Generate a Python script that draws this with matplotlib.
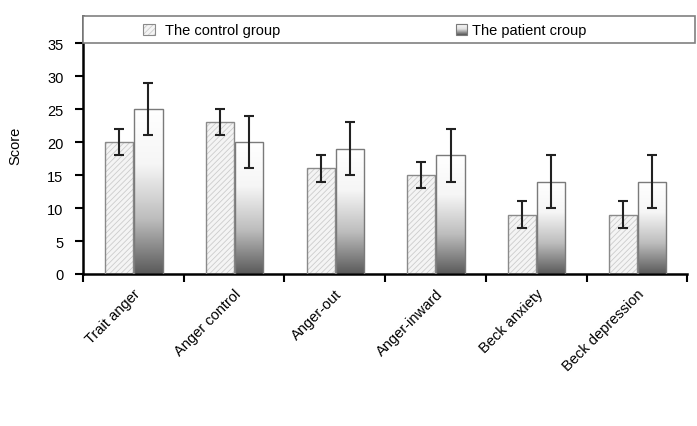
import numpy as np
import matplotlib.pyplot as plt
from matplotlib.patches import Rectangle
from matplotlib.colors import LinearSegmentedColormap
import matplotlib.transforms as mtransforms

plt.rcParams['font.family'] = ['Liberation Sans', 'DejaVu Sans']
plt.rcParams['hatch.linewidth'] = 0.6

categories = ["Trait anger", "Anger control", "Anger-out", "Anger-inward",
              "Beck anxiety", "Beck depression"]
control = [20, 23, 16, 15, 9, 9]
control_err = [2, 2, 2, 2, 2, 2]
patient = [25, 20, 19, 18, 14, 14]
patient_err = [4, 4, 4, 4, 4, 4]

fig = plt.figure(figsize=(6.97, 4.27), dpi=100)
ax = fig.add_axes([0.119, 0.356, 0.867, 0.604])

x = np.arange(len(categories))
w = 0.28
xc = x + 0.36
xp = x + 0.65

# control: light hatched fill, then grey outline
ax.bar(xc, control, w, color='#f4f4f4', edgecolor='#cccccc', hatch='//////',
       linewidth=0, zorder=2)
ax.bar(xc, control, w, color='none', edgecolor='#8a8a8a', linewidth=1, zorder=3)

bars = ax.bar(xp, patient, w, color='none', edgecolor='#7a7a7a', linewidth=1, zorder=3)

# vertical gradient, white on top, dark grey at bottom
cmap = LinearSegmentedColormap.from_list(
    'g', ['#ffffff', '#f6f6f6', '#bdbdbd', '#5a5a5a'])
for b in bars:
    x0, y0 = b.get_x(), b.get_y()
    im = ax.imshow(np.linspace(0, 1, 256).reshape(-1, 1), cmap=cmap, aspect='auto',
                   extent=[x0, x0 + b.get_width(), y0, y0 + b.get_height()],
                   origin='upper', zorder=2)
    im.set_clip_path(b)

ax.errorbar(xc, control, yerr=control_err, fmt='none', ecolor='#222222',
            elinewidth=1.5, capsize=3.5, capthick=1.5, zorder=4)
ax.errorbar(xp, patient, yerr=patient_err, fmt='none', ecolor='#222222',
            elinewidth=1.5, capsize=3.5, capthick=1.5, zorder=4)

fs = 10.5
ax.set_xlim(0, 6)
ax.set_ylim(0, 39.1)
ax.set_yticks(range(0, 36, 5))
ax.set_xticks(range(0, 7))
ax.set_xticklabels([])
ax.set_xticks(x + 0.5, minor=True)
ax.set_xticklabels(categories, minor=True, rotation=45, ha='right',
                   rotation_mode='anchor', fontsize=fs)
ax.tick_params(axis='x', which='minor', length=0, pad=9)
ax.tick_params(axis='x', which='major', length=6, width=1.5)
ax.tick_params(axis='y', length=6, width=1.5, labelsize=fs, pad=8)

for s in ['top', 'right']:
    ax.spines[s].set_visible(False)
for s in ['left', 'bottom']:
    ax.spines[s].set_linewidth(1.8)

ax.set_ylabel('Score', fontsize=fs, labelpad=18)

# legend box spanning the top of the plot
trans = mtransforms.blended_transform_factory(ax.transAxes, ax.transData)
ax.add_patch(Rectangle((0, 35), 1.013, 4.1, transform=trans, facecolor='white',
                       edgecolor='#808080', linewidth=1.2, clip_on=False, zorder=5))
ax.add_patch(Rectangle((0.1, 36.2), 0.019, 1.7, transform=trans, facecolor='#f4f4f4',
                       edgecolor='#cccccc', hatch='//////', linewidth=0,
                       clip_on=False, zorder=6))
ax.add_patch(Rectangle((0.1, 36.2), 0.019, 1.7, transform=trans, facecolor='none',
                       edgecolor='#8a8a8a', linewidth=0.8, clip_on=False, zorder=7))
ax.text(0.136, 37.05, 'The control group', transform=trans, fontsize=fs,
        va='center', zorder=6)
ax.add_patch(Rectangle((0.617, 36.2), 0.019, 1.7, transform=trans, facecolor='none',
                       edgecolor='#7a7a7a', linewidth=0.8, clip_on=False, zorder=7))
ax.imshow(np.linspace(0, 1, 64).reshape(-1, 1), cmap=LinearSegmentedColormap.from_list(
    'h', ['#ffffff', '#e0e0e0', '#555555']), aspect='auto', transform=trans,
    extent=[0.617, 0.636, 36.2, 37.9], origin='upper', zorder=6, clip_on=False)
ax.text(0.643, 37.05, 'The patient croup', transform=trans, fontsize=fs,
        va='center', zorder=6)
ax.set_xlim(0, 6)
ax.set_ylim(0, 39.1)

fig.savefig('out.png', dpi=100)
